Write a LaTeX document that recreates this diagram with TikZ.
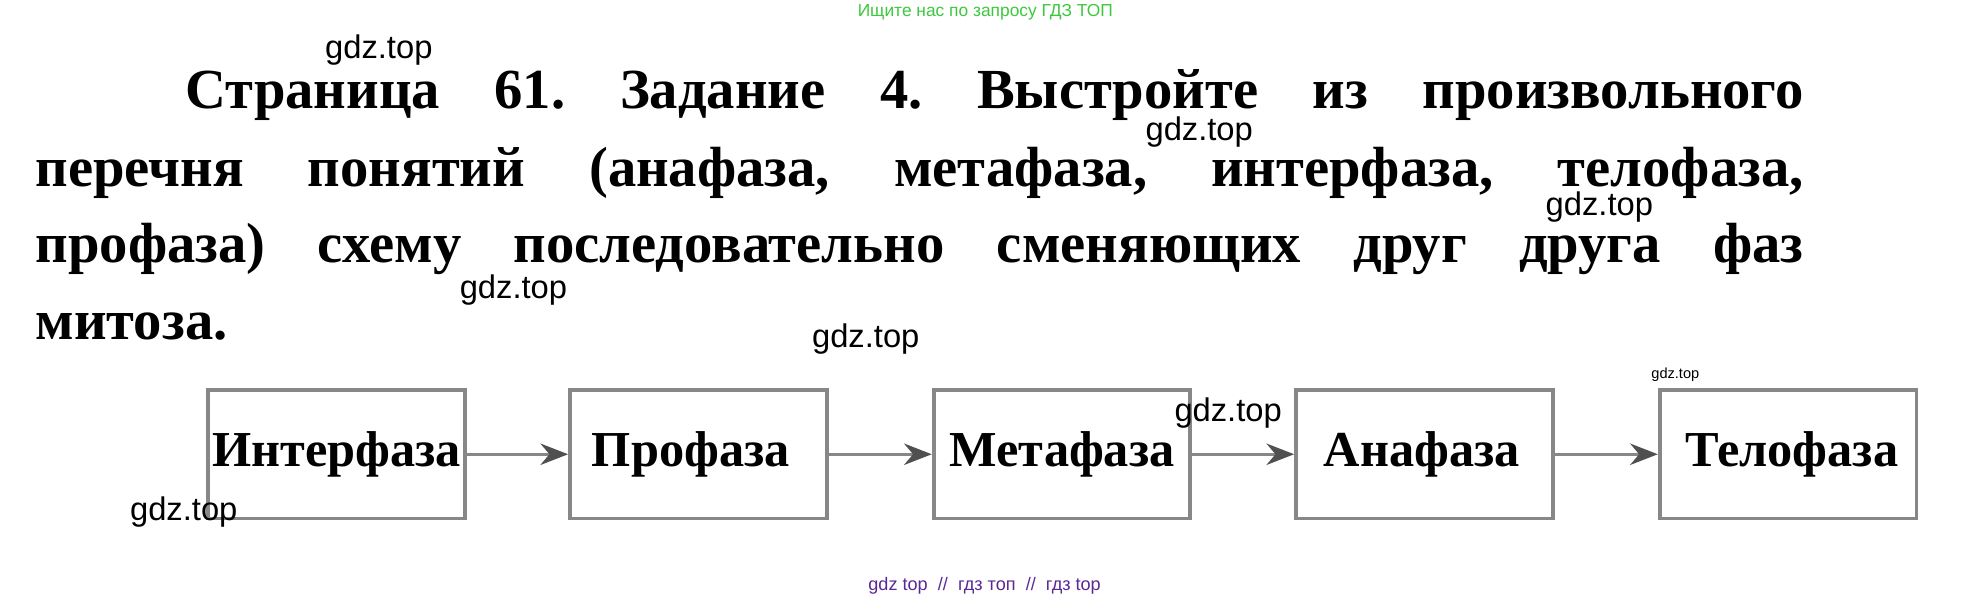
\documentclass[tikz,border=0pt]{standalone}
\usepackage{fontspec}
\setmainfont{Liberation Serif}
\newfontfamily\wmfont{Liberation Sans}
\usetikzlibrary{arrows.meta}
\definecolor{boxgray}{RGB}{135,135,135}
\definecolor{tipgray}{RGB}{80,80,80}
\definecolor{wmgreen}{RGB}{60,200,60}
\definecolor{wmpurple}{RGB}{90,40,150}
\frenchspacing
\begin{document}
\begin{tikzpicture}[x=0.5pt,y=-0.5pt,
  phase/.style={draw=boxgray,line width=1.5pt,minimum width=102pt,minimum height=51pt,inner sep=0pt,
    font=\fontsize{20}{24}\selectfont\bfseries},
  flow/.style={draw=boxgray,line width=1.2pt,-{Stealth[length=11pt,width=8.5pt,color=tipgray]}},
  titleline/.style={anchor=base west,inner sep=0pt,font=\fontsize{22.5}{31}\selectfont\bfseries},
  wm/.style={anchor=base west,inner sep=0pt,font=\wmfont\fontsize{13}{15}\selectfont},
]
\useasboundingbox (0,0) rectangle (1568,477.6);
% header / footer
\node[anchor=base,inner sep=0pt,text=wmgreen,font=\wmfont\fontsize{6.9}{8}\selectfont] (hdr) at (783,13) {Ищите нас по запросу ГДЗ ТОП};
\node[anchor=base,inner sep=0pt,text=wmpurple,font=\wmfont\fontsize{7.2}{9}\selectfont] (ftr) at (782.5,469) {gdz top \ // \ гдз топ \ // \ гдз top};
% title
\node[titleline] (t1) at (147,86) {\makebox[643pt][s]{Страница 61. Задание 4. Выстройте из произвольного}};
\node[titleline] (t2) at (28,148) {\makebox[702.5pt][s]{перечня понятий (анафаза, метафаза, интерфаза, телофаза,}};
\node[titleline] (t3) at (28,209) {\makebox[702.5pt][s]{профаза) схему последовательно сменяющих друг друга фаз}};
\node[titleline] (t4) at (28,270) {митоза.};
% boxes
\node[phase] (b1) at (267.5,361) {Интерфаза};
\node[phase] (b2) at (555,361) {\hspace*{-6pt}Профаза};
\node[phase] (b3) at (844,361) {Метафаза};
\node[phase] (b4) at (1132,361) {\hspace*{-2pt}Анафаза};
\node[phase] (b5) at (1421,361) {\hspace*{3pt}Телофаза};
\draw[flow] (b1) -- (b2);
\draw[flow] (b2) -- (b3);
\draw[flow] (b3) -- (b4);
\draw[flow] (b4) -- (b5);
% gdz.top watermarks
\node[wm] (w1) at (258,46.5) {gdz.top};
\node[wm] (w2) at (910,111.5) {gdz.top};
\node[wm] (w3) at (1228,171) {gdz.top};
\node[wm] (w4) at (365,237) {gdz.top};
\node[wm] (w5) at (645,276) {gdz.top};
\node[wm] (w6) at (933,335) {gdz.top};
\node[wm,font=\wmfont\fontsize{5.8}{7}\selectfont] (w7) at (1312,301) {gdz.top};
\node[wm] (w8) at (103,414) {gdz.top};
\end{tikzpicture}
\end{document}
